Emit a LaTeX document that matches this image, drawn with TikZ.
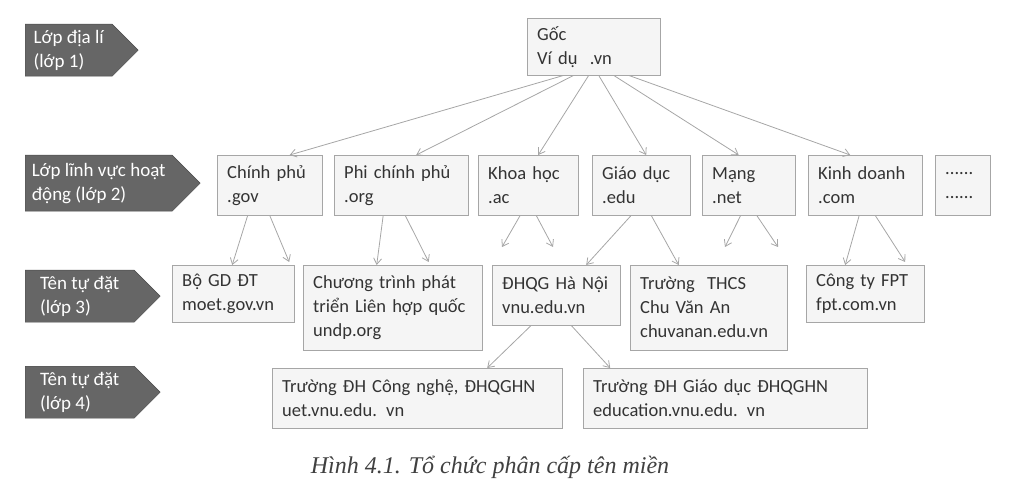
\documentclass[tikz,border=0pt]{standalone}
\usepackage{fontspec}
\setmainfont{Carlito}
\newfontfamily\capfont{Liberation Serif}
\usetikzlibrary{shapes.symbols,arrows.meta,calc}
\begin{document}
\begin{tikzpicture}[x=1pt,y=-1pt,
 bx/.style={draw=gray!70,fill=gray!8,anchor=north west,align=left,inner xsep=10pt,inner ysep=4pt,text width=#1,font=\fontsize{18.5}{24}\selectfont,text=black!80},
 lab/.style={signal,signal to=east,fill=black!60,draw=black!70,text=white,anchor=north west,align=left,font=\fontsize{19}{24}\selectfont,inner xsep=3pt,inner ysep=2pt},
 ar/.style={draw=gray!70,-{Straight Barb[length=6pt,width=8pt]},line width=0.8pt}]
\useasboundingbox (0,0) rectangle (1024,502);
% labels
\node[lab,minimum width=113,minimum height=52] (l1) at (25,24) {Lớp địa lí\\(lớp 1)};
\node[lab,minimum width=175,minimum height=56] (l2) at (25,155) {Lớp lĩnh vực hoạt\\động (lớp 2)};
\node[lab,minimum width=135,minimum height=52] (l3) at (25,270) {Tên tự đặt\\(lớp 3)};
\node[lab,minimum width=135,minimum height=52] (l4) at (25,366) {Tên tự đặt\\(lớp 4)};
% root
\node[bx=113,minimum height=57] (g) at (527,18) {Gốc\\Ví dụ\ \ .vn};
% level 2
\node[bx=85,minimum height=60] (cp) at (217,155) {Chính phủ\\.gov};
\node[bx=114,minimum height=60] (pc) at (334,155) {Phi chính phủ\\.org};
\node[bx=80,minimum height=60] (kh) at (478,155) {Khoa học\\.ac};
\node[bx=78,minimum height=60] (gd) at (592,155) {Giáo dục\\.edu};
\node[bx=73,minimum height=60] (mg) at (702,155) {Mạng\\.net};
\node[bx=94,minimum height=60] (kd) at (808,155) {Kinh doanh\\.com};
\node[bx=35,minimum height=60] (dd) at (935,155) {......\\......};
% level 3
\node[bx=102,minimum height=57] (bo) at (172,265) {Bộ GD ĐT\\moet.gov.vn};
\node[bx=159,minimum height=85] (un) at (303,265) {Chương trình phát\\triển Liên hợp quốc\\undp.org};
\node[bx=108,minimum height=60] (vn) at (492,265) {ĐHQG Hà Nội\\vnu.edu.vn};
\node[bx=137,minimum height=85] (ca) at (630,265) {Trường\ \ THCS\\Chu Văn An\\chuvanan.edu.vn};
\node[bx=98,minimum height=57] (fp) at (806,265) {Công ty FPT\\fpt.com.vn};
% level 4
\node[bx=270,minimum height=60] (ue) at (272,368) {Trường ĐH Công nghệ, ĐHQGHN\\uet.vnu.edu. vn};
\node[bx=264,minimum height=60] (ed) at (583,368) {Trường ĐH Giáo dục ĐHQGHN\\education.vnu.edu. vn};
% root arrows
\foreach \t/\sx/\dx in {cp/-30/20,pc/-20/15,kh/-5/10,gd/5/5,mg/20/-10,kd/35/-15}
  \draw[ar] ($(g.south)+(\sx,0)$) -- ($(\t.north)+(\dx,0)$);
% level2 -> below
\coordinate (k1) at (502,247); \coordinate (k2) at (553,247);
\coordinate (m1) at (725,247); \coordinate (m2) at (778,247);
\draw[ar] ($(cp.south)+(-22,0)$) -- ($(bo.north)+(-1,0)$);
\draw[ar] ($(cp.south)+(0,0)$) -- ($(bo.north)+(56,-3)$);
\draw[ar] ($(pc.south)+(-18,0)$) -- ($(un.north)+(-16,0)$);
\draw[ar] ($(pc.south)+(4,0)$) -- ($(un.north)+(36,-3)$);
\draw[ar] ($(kh.south)+(-8,0)$) -- (k1);
\draw[ar] ($(kh.south)+(8,0)$) -- (k2);
\draw[ar] ($(gd.south)+(-10,0)$) -- ($(vn.north)+(30,0)$);
\draw[ar] ($(gd.south)+(10,0)$) -- ($(ca.north)+(-30,0)$);
\draw[ar] ($(mg.south)+(-8,0)$) -- (m1);
\draw[ar] ($(mg.south)+(8,0)$) -- (m2);
\draw[ar] ($(kd.south)+(-6,0)$) -- ($(fp.north)+(-20,0)$);
\draw[ar] ($(kd.south)+(10,0)$) -- ($(fp.north)+(40,-3)$);
\draw[ar] ($(vn.south)+(-25,0)$) -- ($(ue.north)+(70,0)$);
\draw[ar] ($(vn.south)+(15,0)$) -- ($(ed.north)+(-115,0)$);
% caption
\node[font=\capfont\fontsize{24}{28}\selectfont\itshape,text=black!75] (cap) at (490,467) {Hình 4.1. Tổ chức phân cấp tên miền};
\end{tikzpicture}
\end{document}
